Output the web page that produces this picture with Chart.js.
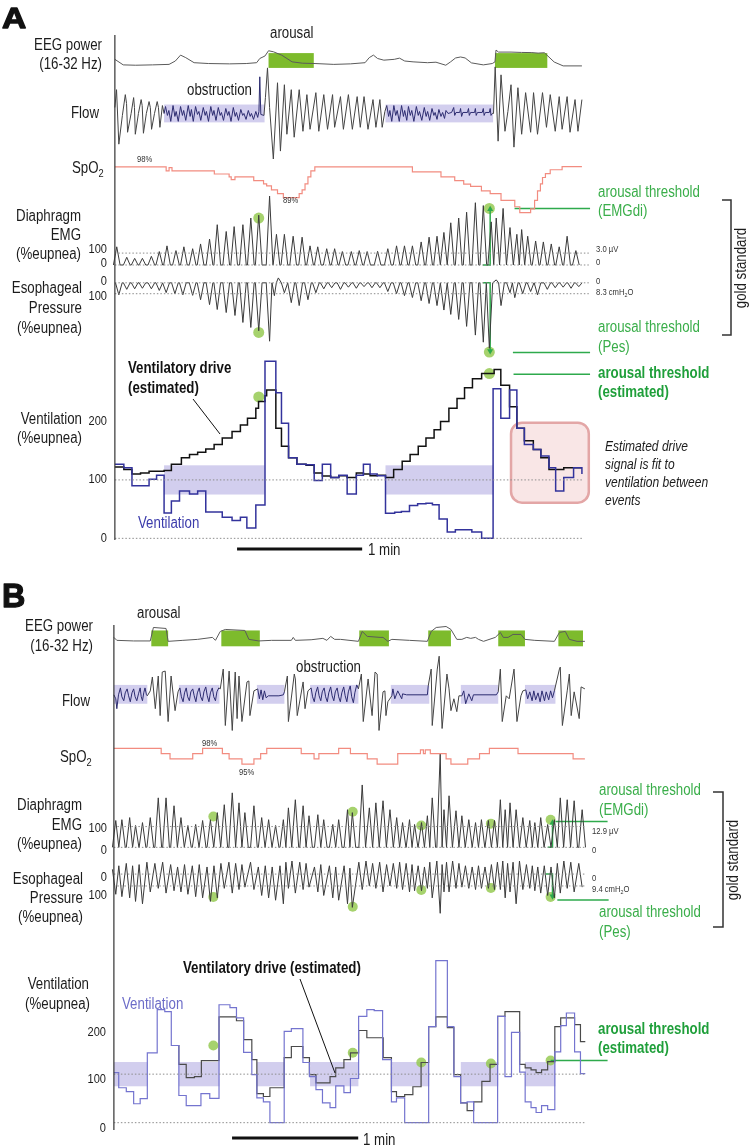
<!DOCTYPE html>
<html><head><meta charset="utf-8">
<script src="https://cdn.jsdelivr.net/npm/chart.js@4.4.1/dist/chart.umd.min.js"></script>
<style>html,body{margin:0;padding:0;background:#fff;overflow:hidden}canvas{display:block}</style>
</head><body><canvas id="c" width="750" height="1147"></canvas>
<script>
// ================= DATA (time in seconds) =================
// ---- Panel A ----
const eegA_t=[0,4,10,18,26,29,31.5,34,38,45,55,63,68,69.5,72,73.7,76,80,85,90,96,105,113,120,122,124,126,129,134,136.5,139,143,150,154,158.7,161,163.4,165.8,168,171,176.7,181,182.3,182.8,184,190,195,200,203,206,210.7,215,224];
const eegA_v=[4.5,1.2,1.0,1.2,1.5,3.5,7,5.5,2.5,2,1.8,2,2.5,5,6.5,9.6,9,7,3,2.2,2,1.5,1.8,2.5,5.5,7,5,4,4.5,5.2,3.5,3,2.5,2.8,1,3,5.3,5.9,5.3,2.4,1.2,2,3,10,8.8,8.8,8.6,8.5,8.2,8.4,2.9,0.6,0.6];
const flowA=[[0,0.5],[0.8,1.4],[1.9,-1.35],[3.6,0.1],[5,1.15],[5.6,0.7],[6.1,-0.75],[7.8,0.2],[9,1.0],[9.4,0.5],[9.8,-0.85],[11.3,0.2],[12.6,0.9],[13.1,0.6],[13.7,-0.8],[15.1,0.2],[16.4,0.8],[17,0.5],[17.6,-0.6],[19,0.2],[20.3,0.8],[20.9,0.5],[21.6,-0.5],[22.8,0.6],[23.6,0.2],
[24.3,0.55],[25.2,0.1],[25.9,0.35],[26.8,-0.2],[27.9,0.6],[28.8,0.05],[29.4,0.3],[30.4,-0.2],[31.5,0.55],[32.4,0.1],[33,0.35],[34,-0.15],[35.2,0.6],[36.1,0.05],[36.7,0.4],[37.6,-0.2],[38.7,0.55],[39.6,0.15],[40.3,0.3],[41.2,-0.15],[42.4,0.5],[43.3,0.1],[43.9,0.3],[44.9,-0.2],[46,0.55],[46.9,0.1],[47.5,0.35],[48.5,-0.15],[49.6,0.5],[50.5,0.1],[51.1,0.25],[52.1,-0.15],[53.2,0.45],[54.1,0.1],[54.7,0.3],[55.7,-0.2],[56.8,0.5],[57.7,0.05],[58.3,0.25],[59.3,-0.15],[60.4,0.4],[61.3,0.1],[61.9,0.2],[62.9,-0.1],[64,0.35],[64.9,0.05],[65.5,0.2],[66.5,-0.1],[67.6,0.3],[68.5,0.0],[69.1,0.3],
[69.5,2.05],[70,0.15],[71.5,0.1],[72.2,1.0],[73.2,2.5],[74.2,0.5],[76,-2.1],[78,1.75],[79.4,-1.7],[81.3,1.65],[82.5,-0.85],[84.6,1.4],[86,-1.0],[88.4,1.4],[90.2,-0.7],[92.1,1.15],[93.6,-0.6],[96.4,1.25],[97.8,-0.7],[100.2,1.15],[102,-0.6],[104.4,1.15],[105.4,-0.5],[108.2,1.05],[109.6,-0.6],[112,1.15],[113.9,-0.6],[116.2,1.05],[117.7,-0.5],[119.5,1.05],[121.4,-0.6],[123.8,0.9],[125.2,-0.5],[127.1,0.9],[128.2,-0.5],[129.5,0.3],
[130.4,0.6],[131.3,0.05],[131.9,0.35],[132.8,-0.2],[133.8,0.6],[134.7,0.1],[135.4,0.35],[136.4,-0.2],[137.5,0.6],[138.4,0.05],[139,0.35],[140,-0.15],[140.8,0.55],[141.7,0.1],[142.4,0.35],[143.4,-0.2],[144.6,0.55],[145.5,0.1],[146.1,0.3],[147.2,-0.15],[148.4,0.5],[149.3,0.05],[150,0.3],[151,-0.15],[152.1,0.45],[153,0.1],[153.6,0.25],[154.5,-0.1],[155.4,0.4],[156.4,0.05],[157.2,0.25],[158.1,-0.05],[158.8,0.35],[159.8,0.2],[161.5,0.25],[162.5,0.5],[163,0.1],[163.6,0.25],[165.4,0.25],[165.8,0.45],[166.3,0.05],[166.9,0.25],[169.1,0.25],[169.6,0.45],[170,0.1],[170.6,0.25],[172.5,0.25],[172.9,0.45],[173.3,0.1],[173.9,0.25],[176.2,0.25],[176.7,0.45],[177.1,0.1],[177.7,0.25],[179.6,0.25],[180,0.45],[180.4,0.1],[181,0.2],
[181.6,0.2],[182.4,2.55],[183.8,-1.2],[185.2,2.15],[187.1,-0.7],[188.5,0.3],[190,1.65],[191.4,-1.5],[193.3,1.5],[195.1,-0.85],[197,1.25],[199.4,-0.75],[200.8,1.25],[202.7,-0.85],[205.1,1.25],[207,-0.5],[208.8,1.15],[211.2,-0.7],[213.1,1.05],[214.5,-0.6],[216.9,1.05],[218.3,-0.75],[220.7,0.9],[222.1,-0.7],[224,0.9]];
const spoA_t=[0,24.6,26,27.4,47.7,54.8,55.8,57.6,66.6,71.3,72.8,75.1,78,80.8,88.4,89.8,91.2,92.6,94,95.9,142.7,156.4,163,167.3,170.6,175.8,180,185.2,191.8,194.2,199.4,201.3,202.7,204.1,205.1,206.5,208.8,214.5,224];
const spoA_v=[98,96.9,97.8,96.9,96,95.2,94.4,95.2,94.1,93.2,92.6,91.5,90.4,89.3,90.4,91.5,93.2,95.2,96.9,98,96.6,95.2,94.1,93.1,92.5,91.2,90.4,88.5,86.7,85,86.1,88.5,91.2,93.2,95,96.1,97.2,98.1,98.1];
const emgA_t=[0.9,5.7,9.5,13.2,17.5,21.3,25,29.3,33.1,37.3,41.1,45.4,49.1,53.4,57.2,61.4,65.2,69,74.2,77.5,81.3,85.5,89.8,93.6,97.3,101.6,105.4,109.1,113.4,117.2,121,126,130.9,135.1,138.9,142.7,146.9,150.7,154.5,157.8,161.1,164.9,168.7,172.9,176.7,180.5,182.9,186.2,189.5,192.8,195.1,198,201.8,205.5,209.3,213.1,216.9,221.1];
const emgA_v=[153,65,56,56,73,113,161,121,153,137,177,218,339,282,323,339,395,419,580,258,258,242,234,161,153,137,137,113,113,121,113,115,137,161,161,161,194,234,242,274,355,395,444,524,500,363,395,476,315,258,298,242,202,194,177,153,242,121];
const pesA_t=[1.9,5.7,9.5,13.2,17.5,21.3,24.6,28.8,32.6,37.3,41.1,45.4,49.1,53.4,57.6,61.4,65.2,69,74.2,76.5,78.4,81.3,84.6,88.4,92.6,96.4,100.2,104,108.2,112,115.8,119.5,123.3,127.1,130.9,135.1,138.9,142.7,146.9,150.7,154.5,157.8,161.1,164.9,168.7,172.9,176.7,179.6,182.9,185.2,189.5,191.8,195.6,199.4,202.7,207.4,211.2,215,218.8,222.5];
const pesA_v=[110,60,55,50,55,70,90,100,110,115,155,200,245,273,300,364,410,440,536,118,-45,91,182,209,155,91,55,45,60,40,50,35,45,45,80,100,118,135,164,190,209,250,290,336,400,480,545,600,-27,209,91,136,100,80,110,60,45,40,50,35];
const ventA_t=[0,4.3,8.2,16.4,20,23.6,27.1,31,35.8,39.7,43.6,51.5,56.2,60.2,63.3,67.6,72,77.2,79.9,83.3,87.3,91.7,95.6,99.5,103.5,107.4,111.4,115.8,119.2,122.4,125.8,129.8,134.2,137.4,141.3,145.2,149.2,152.3,155.5,159.4,163.3,167.3,171.2,175.9,181.4,185.1,189.3,192.8,196.4,200.7,204.3,208.2,211.4,215.3,220,224];
const ventA_v=[127,121,90,101,108,43.5,64,81,76,81,45,36,30.5,36,17.5,57,303,249,197,138,127,126,99,127,104,108,76,108,127,110,107,43,44.6,46,56,59,60,57.6,33,10.7,14.7,14.7,10.7,0,256,205.6,253.7,188.6,160.5,152,140.7,121,81,104,121,110];
const driveA_t=[0,4.3,8.2,12.3,16.4,23.6,27.1,31.9,35.8,39.7,43.6,47.6,51.5,56.2,60.2,63.6,67.6,68.9,72,72.8,77.2,79.9,83.3,87.3,91.7,95.6,99.5,103.5,107.4,111.4,115.8,119.2,122.4,125.8,129.8,133.7,137.8,141.6,145.5,149.2,153.1,156.2,160.2,164.1,167.7,171.5,175.9,181.9,185.1,189.3,192.8,196.4,200.7,204.3,208.2,211.4,215.3,220,224];
const driveA_v=[122,118,110,112,115,116,126.6,138,143.5,147.5,153,160.5,171.7,183,194,205.6,222.5,234,244,254,188.6,157.6,138,126.6,125,112,106.8,104,107,104,112,110,107,108,104,118,132,143.5,157.6,171.7,186,200,222.5,239.5,257.6,273,282,289,262,225,188.6,167,152,138,118,118,121,121,121];
const arousalA=[[73.7,95.4],[182.3,207.4]];
const obstructA=[[23.6,71.8],[129.8,181.4]];
const dotA_t=[69,179.6], dotA_emg=[395,476], dotA_pes=[455,636], dotA_vent=[242,282];
const threshA=[476,640,281]; // EMGdi, Pes, estimated (%eupnea)

// ---- Panel B ----
const eegB_t=[0,1.4,9.4,17.3,18.8,24.8,25.8,32.8,39.8,46.9,48.3,50.6,53,62.3,64.2,68.9,75,84.4,85.3,86.3,93.8,99.4,101.3,103.1,105,107.8,116.3,118.1,120.5,126.6,128,130.3,132.2,140.6,149.1,150.9,153.3,158,160.3,163.1,165.5,167.8,169.7,172,173.4,175.8,181.4,183.8,185.2,187.5,189.8,193.6,195.5,200.2,209.5,211.9,214.7,216.6,220.3,224];
const eegB_v=[5,3.5,3.2,3.2,10,9.5,3,3.5,4,5,3.5,8,9,8.5,4,3.2,3.5,3.5,5,3.5,3.8,4.5,3.5,5.5,4,4,3,8,5.5,5,5,3,4,3.5,3,8,10,10.5,9,4,4,5,4.5,5,4,3,5,7.5,5,5,6.5,6.5,4,3.5,3,7.5,8,4,3,3];
const flowB=[[0,0.1],[0.9,-0.1],[1.4,-0.6],[2.2,0.1],[3.1,0.45],[3.8,0.0],[4.7,-0.2],[5.4,0.2],[6.3,0.4],[7,0.05],[7.8,-0.25],[8.6,0.2],[9.4,0.4],[10.1,0.0],[10.9,-0.2],[11.7,0.15],[12.5,0.45],[13,0.0],[13.6,-0.2],[14.2,0.2],[14.8,0.45],[15.5,0.1],
[15.9,0.05],[17.3,0.3],[18.3,1.0],[19.7,-0.6],[21.1,1.05],[22,-0.95],[23,1.25],[24.4,1.3],[25.8,-1.25],[27.2,1.05],[29.1,-0.7],[30.5,0.25],
[31.4,0.45],[32.1,0.0],[32.9,-0.25],[33.6,0.2],[34.4,0.45],[35.1,0.0],[35.9,-0.2],[36.6,0.25],[37.5,0.4],[38.2,0.05],[39,-0.25],[39.7,0.2],[40.6,0.45],[41.3,0.0],[42.1,-0.2],[42.8,0.25],[43.7,0.5],[44.4,0.05],[45.2,-0.25],[45.9,0.2],[46.8,0.45],[47.5,0.0],[48.3,-0.2],[49,0.25],[49.9,0.45],
[50.6,0.4],[52,1.4],[53,-1.45],[54.8,1.3],[56.3,-1.7],[57.7,1.25],[58.6,-1.1],[59.5,1.05],[60.9,-1.25],[63.3,0.75],[64.2,0.8],[64.7,-0.95],[66.6,0.3],
[68.4,0.4],[69.2,-0.1],[70,0.35],[70.8,-0.15],[71.6,0.3],[72.4,-0.05],[73.5,0.05],[78.5,0.05],[80.6,0.1],
[81.1,0.25],[82.5,1.05],[83,-1.25],[85.8,1.15],[86.3,0.9],[87.2,-0.95],[90,0.75],[90.9,-0.6],[92.3,0.3],
[93.8,0.45],[94.5,0.0],[95.3,-0.25],[96,0.2],[96.9,0.5],[97.6,0.05],[98.4,-0.2],[99.1,0.25],[100,0.45],[100.7,0.0],[101.5,-0.25],[102.2,0.2],[103.1,0.5],[103.8,0.05],[104.6,-0.2],[105.3,0.25],[106.2,0.45],[106.9,0.0],[107.7,-0.25],[108.4,0.2],[109.3,0.5],[110,0.05],[110.8,-0.25],[111.5,0.25],[112.4,0.55],[113.1,0.0],[113.9,-0.3],[114.6,0.2],[115.5,0.6],
[116.3,0.4],[117.7,1.15],[118.6,-1.25],[120.9,0.9],[122.8,-0.95],[124.2,1.25],[125.2,1.15],[126.1,-1.7],[128,0.25],[128.9,0.3],[129.4,-0.95],[130.3,-0.25],
[132.2,0.05],[132.7,0.4],[133.6,-0.1],[135,0.3],[136.9,-0.1],[137.3,0.15],[139.2,0.1],[149.1,0.1],[149.5,0.55],
[150.9,1.4],[151.4,-1.45],[153.8,1.4],[154.7,2.05],[156.1,-1.6],[158.4,1.15],[159.4,0.4],[160.3,-0.7],[161.7,-0.1],[163.1,-0.75],[164.1,0.05],
[165.5,0.05],[166.4,0.3],[167.3,-0.35],[168.8,0.15],[170.2,-0.2],[171,0.1],[181.9,0.1],[182.8,0.25],
[183.8,1.4],[184.7,-1.25],[186.6,0.05],[188,-0.1],[190.3,1.4],[191.7,-1.25],[193.6,0.05],[194.5,0.3],
[195.9,0.35],[196.8,-0.1],[197.8,0.25],[198.9,-0.2],[199.7,0.3],[200.6,-0.15],[201.7,0.2],[202.7,-0.25],[203.6,0.3],[204.8,-0.2],[205.6,0.25],[206.8,-0.15],[207.7,0.3],[208.6,-0.05],[209.5,0.3],
[211.9,1.4],[212.3,1.5],[213.3,-1.45],[215.6,0.3],[216.6,1.15],[217.5,-0.95],[218.9,0.25],[221.3,-1.1],[222.2,0.5],[224,0.4]];
const spoB_t=[0,22.5,26.7,37.5,42.2,51.6,54.8,60.9,66.6,69.8,72.7,89.1,95.2,97.5,106.9,112.5,120.5,125.2,135,145.8,147.2,148.1,150.5,158,160.3,168.3,173.9,178.6,192.2,218.4,224];
const spoB_v=[98,97,96,97,98,97,96,95,96,97,98,97,96,97,98,97,96,95,97,97.7,97,97.7,97,96,95,96,97,98,97,96,96];
const emgB_t=[0.9,3.8,7.5,10.3,13.6,17.3,21.1,24.8,28.6,31.9,35.2,38.9,42.2,45.9,49.2,52.5,56.3,59.5,62.3,66.6,70.3,73.6,76.9,80.6,83,86.3,90,92.8,97,99.8,104.1,106.9,111.1,113.4,118.1,121.5,124.6,128,131.3,134.5,137.3,140.6,143,146.3,149.1,151.4,155.2,157,159.4,162.7,165.5,168.8,172,174.8,178.1,181,183.8,186.1,188.4,191.3,194.5,197.8,200.2,203,206.3,209.5,212.3,215.6,218.9,222.7];
const emgB_v=[129,133,143,105,119,143,238,238,200,143,105,110,129,133,167,205,262,214,167,200,143,133,105,133,190,229,200,152,157,133,110,133,181,167,300,190,214,224,181,143,119,133,110,119,152,238,452,181,248,176,152,133,119,133,129,129,229,181,214,181,143,129,119,143,110,133,238,229,224,181];
const pesB_dip=[170,190,200,230,250,150,120,160,140,150,170,190,200,230,200,120,160,130,110,130,180,200,220,250,120,160,130,110,150,180,200,220,250,280,130,100,120,150,100,120,130,150,140,140,120,200,330,150,150,120,110,120,130,120,120,130,130,200,150,250,130,120,140,160,180,200,160,120,150,110];
const pesB_up=[-40,-70,-90,-70,-80,-100,-90,-100,-80,-60,-80,-70,-80,-60,-70,-90,-100,-90,-80,-100,-60,-70,-60,-70,-100,-110,-100,-90,-60,-80,-70,-60,-70,-50,-100,-110,-90,-100,-80,-90,-100,-90,-80,-70,-60,-100,-110,-80,-100,-110,-90,-70,-60,-70,-60,-80,-100,-110,-90,-100,-110,-80,-70,-60,-70,-60,-90,-110,-100,-90];
const ventB_t=[0,2.3,5.9,9.4,12.5,15.9,20.6,24.2,27.3,30.9,34.4,41.4,45.6,50,55.2,58.3,61.7,65.6,68,71.1,74.2,81,84.4,89.9,93,96.1,99.2,102.8,105.5,109.4,112.5,116.4,120.3,123.8,127.8,132,134.4,138.3,149.7,153.1,158.6,161.7,164.9,168,171.1,182.5,186,189.1,193,195.6,198.4,200.8,203.4,206.3,209.7,212.5,215.2,219.1,221.9,224.2];
const ventB_v=[103,72,64,39,49.5,144,233,229,159,56,35,60,50,243,237,216,145,99,51,43,0,188,194,124,95,68,41,31,76,62,91,219,233,231,130,43,51,0,198,334,198,95,41,43,0,219,95,186,104,43,31,21,35,27,146,200,226,146,101,101];
const driveB_t=[27.3,30.9,34.4,38.3,41.6,50,58.3,61.7,65.6,68,71.1,74.2,81,84.4,89.9,93,96.1,102.8,105.5,109.4,112.5,116.4,120.3,128.1,132,134.4,138.3,142.2,146.1,149.7,153.1,158.6,161.7,164.9,168,171.1,175,178.9,182.5,186,193,195.6,198.4,200.8,203.4,206.3,209.7,212.5,215.2,219.1,221.9,224.2];
const driveB_v=[159,120,93,95,128,218,210,171,130,60,54,72,134,157,134,99,82,95,113,130,144,190,175,134,64,54,58,74,124,198,218,196,99,41,25,43,85,120,219,229,120,113,109,103,109,126,198,216,216,202,167,167];
const arousalB=[[17.8,25.8],[51.1,69.4],[116.7,130.8],[149.5,160.3],[182.8,195.5],[211.4,223.1]];
const obstructB=[[0,15.9],[30.9,50.2],[68,81.1],[93.3,116.3],[131.7,150],[165,182.8],[195.5,210]];
const dotB_t=[47.3,113.6,146.2,179.3,207.7], dotB_emg=[148,171,105,114,133], dotB_pes=[192,275,133,117,192], dotB_vent=[159,144,124,122,128];
const threshB=[124,217,128];
const refLevels=[0,100];

// ================= helpers =================
const W=750,H=1147;
function xAxis(p0,v0,p1,v1){const b=(p1-p0)/(v1-v0);return{type:'linear',axis:'x',display:false,bounds:'data',min:v0-p0/b,max:v0+(W-p0)/b};}
function yAxis(p0,v0,p1,v1){const b=(p1-p0)/(v1-v0);const at=px=>v0+(px-p0)/b;
  return b<0?{type:'linear',axis:'y',display:false,bounds:'data',min:at(H),max:at(0)}:{type:'linear',axis:'y',display:false,bounds:'data',reverse:true,min:at(0),max:at(H)};}
const xy=(t,v)=>t.map((x,i)=>({x,y:v[i]}));
const pairs=a=>a.map(p=>({x:p[0],y:p[1]}));
function bursts(t,a,w){const d=[];for(let i=0;i<t.length;i++){const wl=i?Math.min(w,(t[i]-t[i-1])/2):w;const wr=i<t.length-1?Math.min(w,(t[i+1]-t[i])/2):w;d.push({x:t[i]-wl,y:0},{x:t[i],y:a[i]},{x:t[i]+wr,y:0});}return d;}
function swings(t,dip,up,w){const d=[];for(let i=0;i<t.length;i++){const wl=i?Math.min(w,(t[i]-t[i-1])/2):w;d.push({x:t[i]-wl,y:up[i]},{x:t[i],y:dip[i]});}return d;}
const inR=(x,R)=>R.some(r=>x>=r[0]-0.01&&x<=r[1]+0.01);
function L(xid,yid,data,color,width,extra){return Object.assign({type:'line',xAxisID:xid,yAxisID:yid,data,borderColor:color,borderWidth:width,pointRadius:0,tension:0,fill:false},extra||{});}
const DOT='rgba(150,202,84,0.85)', GL='#2eaa4c';
function dots(xid,yid,t,v,r){return L(xid,yid,xy(t,v),'rgba(0,0,0,0)',0,{showLine:false,pointRadius:r,pointBackgroundColor:DOT,pointBorderWidth:0});}
function arrow(xid,yid,x0,x1,v,down){return L(xid,yid,[{x:x0,y:0},{x:x1,y:0},{x:x1,y:v}],GL,1.5,{pointStyle:'triangle',pointRadius:[0,0,3.5],pointRotation:[0,0,down?180:0],pointBackgroundColor:GL,pointBorderWidth:0});}
function hline(xid,yid,x0,x1,v,color,width,dash){return L(xid,yid,[{x:x0,y:v},{x:x1,y:v}],color,width,dash?{borderDash:dash}:{});}

const ds=[];
refLevels.forEach(v=>{
  ds.push(hline('xA','emgA',0,227.3,v,'#8c8c8c',1,[1.5,2]));
  ds.push(hline('xA','pesA',0,227.3,v,'#8c8c8c',1,[1.5,2]));
  ds.push(hline('xA','ventA',0,224,v,'#8c8c8c',1,[1.5,2]));
  ds.push(hline('xB','emgB',0,224,v,'#8c8c8c',1,[1.5,2]));
  ds.push(hline('xB','pesB',0,224,v,'#8c8c8c',1,[1.5,2]));
  ds.push(hline('xB','ventB',0,224,v,'#8c8c8c',1,[1.5,2]));
});
ds.push(L('xA','eegA',xy(eegA_t,eegA_v),'#5a5a5a',1));
ds.push(L('xA','flowA',pairs(flowA),'#444',1,{segment:{borderColor:c=>inR(c.p0.parsed.x,obstructA)&&inR(c.p1.parsed.x,obstructA)?'#2c2c70':'#444'}}));
ds.push(L('xA','spoA',xy(spoA_t,spoA_v),'#f28c80',1.2,{stepped:true}));
ds.push(L('xA','emgA',bursts(emgA_t,emgA_v,1.6),'#3a3a3a',1));
ds.push(L('xA','pesA',bursts(pesA_t,pesA_v,1.6),'#3a3a3a',1));
ds.push(L('xA','ventA',xy(ventA_t,ventA_v),'#33339c',1.5,{stepped:true}));
ds.push(L('xA','ventA',xy(driveA_t,driveA_v),'#111',1.5,{stepped:true}));
ds.push(L('xB','eegB',xy(eegB_t,eegB_v),'#5a5a5a',1));
ds.push(L('xB','flowB',pairs(flowB),'#444',1,{segment:{borderColor:c=>inR(c.p0.parsed.x,obstructB)&&inR(c.p1.parsed.x,obstructB)?'#2c2c70':'#444'}}));
ds.push(L('xB','spoB',xy(spoB_t,spoB_v),'#f28c80',1.2,{stepped:true}));
ds.push(L('xB','emgB',bursts(emgB_t,emgB_v,1.6),'#3a3a3a',1));
ds.push(L('xB','pesB',swings(emgB_t,pesB_dip,pesB_up,1.6),'#3a3a3a',1));
ds.push(L('xB','ventB',xy(ventB_t,ventB_v),'#7474cf',1.2,{stepped:true}));
ds.push(L('xB','ventB',xy(driveB_t,driveB_v),'#4a4a4a',1.2,{stepped:true}));
ds.push(arrow('xA','emgA',176.5,180,threshA[0]-6,false));
ds.push(arrow('xA','pesA',176.5,180,threshA[1]-15,true));
ds.push(hline('xA','emgA',191.7,227.9,threshA[0],GL,1.5));
ds.push(hline('xA','pesA',190.9,227.9,threshA[1],GL,1.5));
ds.push(hline('xA','ventA',191.2,227.9,threshA[2],GL,1.5));
ds.push(arrow('xB','emgB',206.3,208.6,threshB[0]-6,false));
ds.push(arrow('xB','pesB',205.3,208.6,threshB[1]-30,true));
ds.push(hline('xB','emgB',210,234.8,threshB[0],GL,1.5));
ds.push(hline('xB','pesB',210.9,235.3,threshB[1],GL,1.5));
ds.push(hline('xB','ventB',207.7,234.8,threshB[2],GL,1.5));
ds.push(dots('xA','emgA',dotA_t,dotA_emg,5.5));
ds.push(dots('xA','pesA',dotA_t,dotA_pes,5.5));
ds.push(dots('xA','ventA',dotA_t,dotA_vent,5.5));
ds.push(dots('xB','emgB',dotB_t,dotB_emg,5));
ds.push(dots('xB','pesB',dotB_t,dotB_pes,5));
ds.push(dots('xB','ventB',dotB_t,dotB_vent,5));

// ================= text =================
const FONT='"Liberation Sans", Arial, Helvetica, sans-serif';
const C='#1c1c1c', G='#3aae4a', G2='#1f9f3a';
function T(p,x,y,o){return Object.assign({p:Array.isArray(p)?p:[[p]],x,y,s:16,w:'',c:C,a:'left',k:0.83},o||{});}
const R={a:'right'}, SM={s:8.5,k:0.9,c:'#333'}, TK={s:13,k:0.85,a:'right'};
const texts=[
 T('A',2,28,{s:30,w:'bold',k:1.12,c:'#111',sw:1.3}),
 T('EEG power',102,50,R),T('(16-32 Hz)',102,69,R),
 T('arousal',270,38),T('obstruction',187,95),
 T('Flow',99,118,R),
 T([['SpO'],['2',1]],72,173),
 T('98%',137,162,SM),T('89%',283,203,SM),
 T('Diaphragm',81,221,R),T('EMG',81,240,R),T('(%eupnea)',81,259,R),
 T('100',107,253,TK),T('0',107,267,TK),
 T('Esophageal',82,293,R),T('Pressure',82,313,R),T('(%eupnea)',82,333,R),
 T('0',107,285,TK),T('100',107,300,TK),
 T('3.0 \u00b5V',596,252,SM),T('0',596,265,SM),T('0',596,284,SM),
 T([['8.3 cmH'],['2',1],['O']],596,295,SM),
 T('arousal threshold',598,197,{c:G}),T('(EMGdi)',598,216,{c:G}),
 T('arousal threshold',598,332,{c:G}),T('(Pes)',598,352,{c:G}),
 T('arousal threshold',598,378,{c:G2,w:'bold'}),T('(estimated)',598,397,{c:G2,w:'bold'}),
 T('Ventilatory drive',128,373,{w:'bold',c:'#111'}),T('(estimated)',128,393,{w:'bold',c:'#111'}),
 T('Ventilation',82,424,R),T('(%eupnea)',82,443,R),
 T('200',107,425,TK),T('100',107,483,TK),T('0',107,542,TK),
 T('Ventilation',138,528,{c:'#3b3bab'}),
 T('Estimated drive',605,451,{w:'italic',s:14,k:0.86}),T('signal is fit to',605,469,{w:'italic',s:14,k:0.86}),
 T('ventilation between',605,487,{w:'italic',s:14,k:0.86}),T('events',605,505,{w:'italic',s:14,k:0.86}),
 T('1 min',368,555),
 T('B',2,607,{s:34,w:'bold',k:0.95,c:'#111',sw:1.3}),
 T('arousal',137,618),
 T('EEG power',93,631,R),T('(16-32 Hz)',93,651,R),
 T('obstruction',296,672),
 T('Flow',90,706,R),
 T([['SpO'],['2',1]],60,762),
 T('98%',202,746,SM),T('95%',239,775,SM),
 T('Diaphragm',82,810,R),T('EMG',82,830,R),T('(%eupnea)',82,849,R),
 T('100',107,832,TK),T('0',107,854,TK),
 T('Esophageal',83,884,R),T('Pressure',83,903,R),T('(%eupnea)',83,922,R),
 T('0',107,881,TK),T('100',107,899,TK),
 T('12.9 \u00b5V',592,834,SM),T('0',592,853,SM),T('0',592,881,SM),
 T([['9.4 cmH'],['2',1],['O']],592,892,SM),
 T('arousal threshold',599,795,{c:G}),T('(EMGdi)',599,815,{c:G}),
 T('arousal threshold',599,917,{c:G}),T('(Pes)',599,937,{c:G}),
 T('arousal threshold',598,1034,{c:G2,w:'bold'}),T('(estimated)',598,1053,{c:G2,w:'bold'}),
 T('Ventilatory drive (estimated)',183,973,{w:'bold',c:'#111'}),
 T('Ventilation',89,989,R),T('(%eupnea)',90,1009,R),
 T('Ventilation',122,1009,{c:'#6c6cc8'}),
 T('200',106,1036,TK),T('100',106,1083,TK),T('0',106,1132,TK),
 T('1 min',363,1145)
];
function fontOf(o,size){const st=o.w==='italic'?'italic ':'';const wt=o.w==='bold'?'bold ':'';return st+wt+size+'px '+FONT;}
function drawT(ctx,o){
  ctx.save();ctx.fillStyle=o.c;ctx.strokeStyle=o.c;ctx.textBaseline='alphabetic';ctx.textAlign='left';
  let total=0;const parts=o.p.map(q=>{const sz=q[1]?o.s*0.7:o.s;ctx.font=fontOf(o,sz);const w=ctx.measureText(q[0]).width*o.k;total+=w;return{t:q[0],sz,w,sub:q[1]};});
  let cx=o.a==='right'?o.x-total:o.x;
  parts.forEach(q=>{ctx.save();ctx.font=fontOf(o,q.sz);ctx.translate(cx,o.y+(q.sub?o.s*0.22:0));ctx.scale(o.k,1);ctx.fillText(q.t,0,0);if(o.sw){ctx.lineWidth=o.sw;ctx.lineJoin='round';ctx.strokeText(q.t,0,0);}ctx.restore();cx+=q.w;});
  ctx.restore();
}
function rot(ctx,text,x,y){ctx.save();ctx.fillStyle=C;ctx.font='16px '+FONT;ctx.textAlign='center';ctx.translate(x,y);ctx.rotate(-Math.PI/2);ctx.scale(0.83,1);ctx.fillText(text,0,0);ctx.restore();}
function band(ctx,xs,ys,a,b,lo,hi){const x0=xs.getPixelForValue(a),x1=xs.getPixelForValue(b),y0=ys.getPixelForValue(hi),y1=ys.getPixelForValue(lo);ctx.fillRect(x0,Math.min(y0,y1),x1-x0,Math.abs(y1-y0));}
function seg(ctx,pts,color,w){ctx.save();ctx.strokeStyle=color;ctx.lineWidth=w;ctx.beginPath();pts.forEach((p,i)=>i?ctx.lineTo(p[0],p[1]):ctx.moveTo(p[0],p[1]));ctx.stroke();ctx.restore();}

const deco={id:'deco',
  beforeDatasetsDraw(c){
    const ctx=c.ctx,s=c.scales;ctx.save();
    ctx.fillStyle='#7dbb2c';
    arousalA.forEach(r=>band(ctx,s.xA,s.eegA,r[0],r[1],-0.6,8.2));
    arousalB.forEach(r=>band(ctx,s.xB,s.eegB,r[0],r[1],0.5,8.5));
    ctx.fillStyle='rgba(125,115,205,0.35)';
    obstructA.forEach(r=>{band(ctx,s.xA,s.flowA,r[0],r[1],-0.25,0.65);band(ctx,s.xA,s.ventA,r[0],r[1],75,125);});
    obstructB.forEach(r=>{band(ctx,s.xB,s.flowB,r[0],r[1],-0.35,0.6);band(ctx,s.xB,s.ventB,r[0],r[1],75,125);});
    const x0=s.xA.getPixelForValue(190),x1=s.xA.getPixelForValue(227.3),y0=s.ventA.getPixelForValue(198),y1=s.ventA.getPixelForValue(61);
    ctx.beginPath();ctx.roundRect(x0,y0,x1-x0,y1-y0,11);ctx.fillStyle='rgba(238,190,190,0.38)';ctx.fill();ctx.lineWidth=2.5;ctx.strokeStyle='#e3a6a6';ctx.stroke();
    ctx.restore();
  },
  afterDraw(c){
    const ctx=c.ctx,s=c.scales;
    const xa=s.xA.getPixelForValue(0), xb=s.xB.getPixelForValue(0);
    seg(ctx,[[xa,35],[xa,540]],'#333',1.2);
    seg(ctx,[[xb,625],[xb,1130]],'#333',1.2);
    seg(ctx,[[s.xA.getPixelForValue(58.6),549],[s.xA.getPixelForValue(118.6),549]],'#111',3);
    seg(ctx,[[s.xB.getPixelForValue(56.2),1138],[s.xB.getPixelForValue(116.2),1138]],'#111',3);
    seg(ctx,[[722,200],[731,200],[731,335],[722,335]],'#333',1.5);
    seg(ctx,[[713,792],[723,792],[723,927],[713,927]],'#333',1.5);
    rot(ctx,'gold standard',746,268);
    rot(ctx,'gold standard',738,860);
    seg(ctx,[[193,399],[220,434]],'#111',1);
    seg(ctx,[[300,979],[335,1073]],'#111',1);
    texts.forEach(o=>drawT(ctx,o));
  }
};

new Chart(document.getElementById('c'),{
  type:'line',
  data:{datasets:ds},
  options:{
    responsive:false,animation:false,devicePixelRatio:1,events:[],
    layout:{padding:0},
    plugins:{legend:{display:false},tooltip:{enabled:false},title:{display:false}},
    scales:{
      xA:xAxis(111,0,585,224), xB:xAxis(110,0,588,224),
      eegA:yAxis(62,0,45,10), flowA:yAxis(113,0,93,1), spoA:yAxis(163,98,195,89),
      emgA:yAxis(262,0,250,100), pesA:yAxis(280,0,291,100), ventA:yAxis(538,0,479,100),
      eegB:yAxis(648,0,628,10), flowB:yAxis(698,0,678,1), spoB:yAxis(750,98,766,95),
      emgB:yAxis(850,0,829,100), pesB:yAxis(877,0,889,100), ventB:yAxis(1128,0,1079,100)
    }
  },
  plugins:[deco]
});
</script>
</body></html>
